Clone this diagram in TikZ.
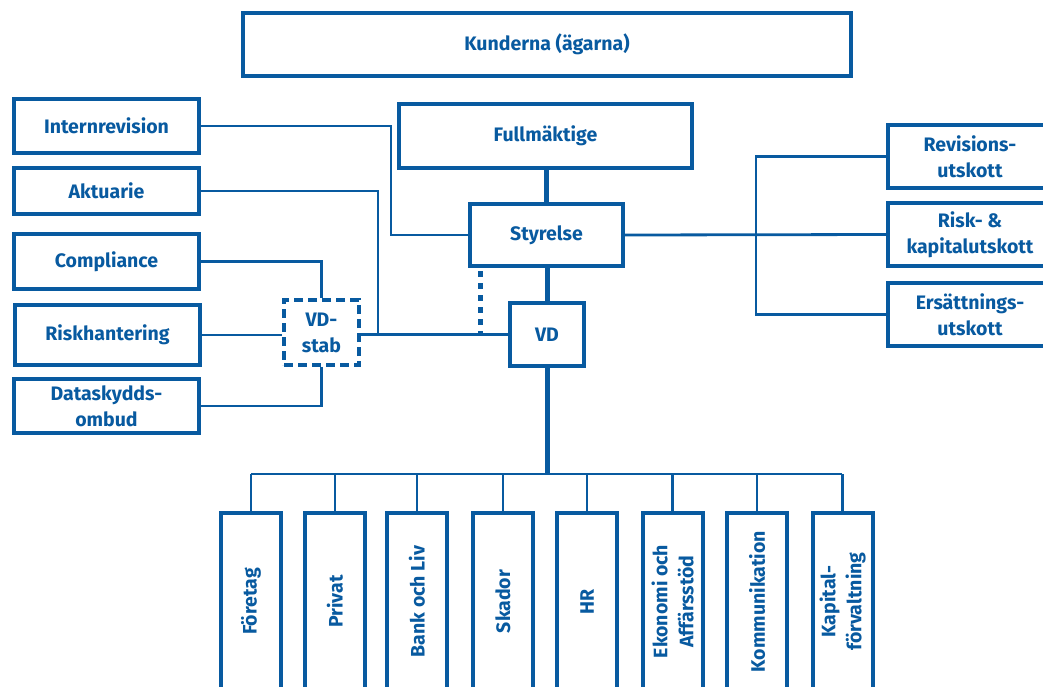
\documentclass[tikz,border=0pt]{standalone}
\usepackage{fontspec}
\setmainfont{Fira Sans}
\definecolor{lfblue}{RGB}{8,90,160}
\begin{document}
\begin{tikzpicture}[x=1pt,y=-1pt,
  box/.style={draw=lfblue,line width=4pt,fill=white,inner sep=0pt,align=center,
    text=lfblue,font=\fontsize{19.5}{26}\selectfont\bfseries},
  stabbox/.style={box,dash pattern=on 9pt off 5pt},
  vbox/.style={box,minimum width=60pt,minimum height=177pt},
  vlabel/.style={rotate=90,text=lfblue,align=center,font=\fontsize{19.5}{26}\selectfont\bfseries},
  conn/.style={draw=lfblue,line width=2.8pt},
  thickconn/.style={draw=lfblue,line width=5pt},
  dotconn/.style={draw=lfblue,line width=5pt,dash pattern=on 6pt off 6pt}]
\useasboundingbox (0,0) rectangle (1043,686);
\clip (0,0) rectangle (1043,686);

\coordinate (busL) at (251,474);
\coordinate (busR) at (842,474);
\coordinate (ja) at (378,334.5);
\coordinate (jd) at (480,334.5);
\coordinate (jr) at (756,235);

% top
\node[box,minimum width=608pt,minimum height=63pt] (kund) at (547,44.5) {Kunderna (ägarna)};
\node[box,minimum width=293pt,minimum height=64pt] (fullm) at (545.5,136) {Fullmäktige};
\node[box,minimum width=153pt,minimum height=62pt] (styr) at (546.5,235) {Styrelse};
\node[box,minimum width=74pt,minimum height=63pt] (vd) at (547,334.5) {VD};

% left
\node[box,minimum width=185pt,minimum height=54pt] (intern) at (106.5,126) {Internrevision};
\node[box,minimum width=185pt,minimum height=46pt] (aktu) at (106.5,191) {Aktuarie};
\node[box,minimum width=185pt,minimum height=55pt] (compl) at (106.5,261.5) {Compliance};
\node[box,minimum width=185pt,minimum height=60pt] (riskh) at (107.5,335) {Riskhantering};
\node[box,minimum width=185pt,minimum height=54pt] (datask) at (106.5,406) {Dataskydds-\\ombud};
\node[stabbox,minimum width=75pt,minimum height=65pt] (vdstab) at (321.5,332.5) {VD-\\stab};

% right
\node[box,minimum width=164pt,minimum height=63pt] (rev) at (970,156.5) {Revisions-\\utskott};
\node[box,minimum width=164pt,minimum height=63pt] (riskk) at (970,234.5) {Risk- \&\\kapitalutskott};
\node[box,minimum width=164pt,minimum height=63pt] (ers) at (970,314.5) {Ersättnings-\\utskott};

% bottom
\node[vbox] (b1) at (251,601.5) {};
\node[vbox] (b2) at (335,601.5) {};
\node[vbox] (b3) at (417,601.5) {};
\node[vbox] (b4) at (503,601.5) {};
\node[vbox] (b5) at (587,601.5) {};
\node[vbox] (b6) at (672.5,601.5) {};
\node[vbox] (b7) at (757,601.5) {};
\node[vbox] (b8) at (842.5,601.5) {};
\node[vlabel] (t1) at (b1) {Företag};
\node[vlabel] (t2) at (b2) {Privat};
\node[vlabel] (t3) at (b3) {Bank och Liv};
\node[vlabel] (t4) at (b4) {Skador};
\node[vlabel] (t5) at (b5) {HR};
\node[vlabel] (t6) at (b6) {Ekonomi och\\Affärsstöd};
\node[vlabel] (t7) at (b7) {Kommunikation};
\node[vlabel] (t8) at (b8) {Kapital-\\förvaltning};

% connectors
\draw[thickconn] (fullm.south -| styr.north) -- (styr.north);
\draw[thickconn] (styr.south -| vd.north) -- (vd.north);
\draw[thickconn] (vd.south) -- (vd.south |- busL);
\draw[conn] (busL) -- (busR);
\foreach \b in {b1,b2,b3,b4,b5,b6,b7,b8}{
  \draw[conn] (\b.north) -- (\b.north |- busL);
}
\draw[conn] (intern.east) -- ++(190,0) |- (styr.west);
\draw[conn] (aktu.east) -| (ja);
\draw[conn] (compl.east) -| (vdstab.north);
\draw[conn] (riskh.east) -- (riskh.east -| vdstab.west);
\draw[conn] (datask.east) -| (vdstab.south);
\draw[conn] (vd.west) -- (vd.west -| vdstab.east);
\draw[dotconn] (jd |- styr.south) ++(0,3) -- (jd);
\draw[conn] (styr.east) -- (riskk.west);
\draw[conn] (rev.west) -| (jr) |- (ers.west);
\end{tikzpicture}
\end{document}
